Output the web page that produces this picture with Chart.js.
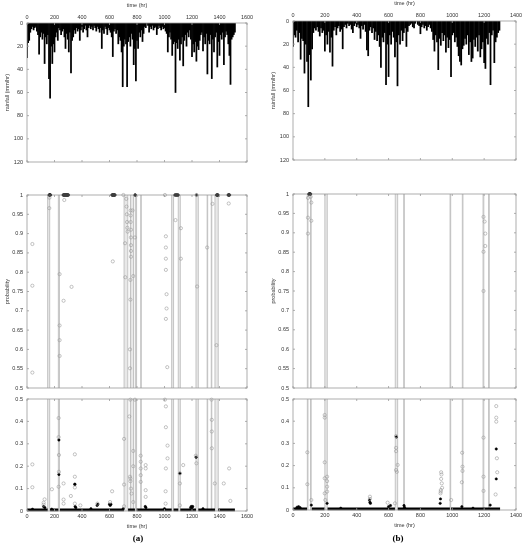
<!DOCTYPE html>
<html>
<head>
<meta charset="utf-8">
<script src="https://cdn.jsdelivr.net/npm/chart.js@4.4.0/dist/chart.umd.min.js"></script>
<style>
  body { margin: 0; background: #fff; width: 527px; height: 550px; position: relative; overflow: hidden; }
  canvas { position: absolute; left: 0; top: 0; }
  .tag { position: absolute; width: 40px; text-align: center; font: bold 9px "Liberation Serif", "Times New Roman", serif; color: #000; }
</style>
</head>
<body>
<canvas id="rainA" width="527" height="550"></canvas>
<canvas id="hiA" width="527" height="550"></canvas>
<canvas id="loA" width="527" height="550"></canvas>
<canvas id="rainB" width="527" height="550"></canvas>
<canvas id="hiB" width="527" height="550"></canvas>
<canvas id="loB" width="527" height="550"></canvas>
<div class="tag" style="left:118px;top:533px">(a)</div>
<div class="tag" style="left:378px;top:533px">(b)</div>

<script>
// =====================================================
// DATA
// =====================================================

// hourly rainfall, one bar every 8 hours (mm/hr)
const rainStep = 8;
const rainA = [
  30,17,15,8,5,3,6,4,3,7,10,27,12,8,14,9,35,12,18,10,
  48,65,20,35,18,25,12,8,15,4,6,10,7,5,12,22,9,14,25,8,
  43,15,12,6,9,4,7,5,15,6,3,8,5,2,6,12,4,2,5,3,
  6,2,4,7,3,5,8,4,22,6,9,3,5,10,4,6,8,12,29,7,
  5,9,6,18,12,15,25,55,20,14,18,55,16,12,20,9,14,36,22,50,
  15,22,8,12,6,16,9,3,4,0,2,8,3,5,2,6,4,3,10,5,
  2,4,6,3,5,4,7,9,25,12,8,14,28,18,16,60,17,22,14,32,
  18,12,37,15,10,20,8,12,6,14,29,18,25,16,33,20,23,15,10,8,
  24,12,18,9,44,15,18,10,48,14,25,12,8,38,16,28,10,14,8,36,
  12,7,10,18,28,53,14,12,10,8
];
const rainB = [
  22,12,14,8,18,10,33,15,17,45,20,35,74,29,51,24,10,6,8,5,
  9,13,6,10,8,26,12,20,9,27,14,39,8,5,12,6,4,9,7,24,
  5,3,6,2,4,3,7,10,4,2,5,3,6,15,4,7,3,9,25,30,
  8,5,10,6,16,9,17,12,22,40,14,18,10,55,20,48,12,20,9,14,
  31,18,56,12,20,8,17,10,6,22,9,4,3,2,5,6,2,0,3,4,
  11,5,3,6,4,8,5,3,6,9,16,26,12,18,42,15,21,10,17,12,
  27,14,23,16,48,12,10,18,14,22,30,35,38,24,21,15,20,12,29,18,
  35,32,16,22,14,26,12,31,24,18,36,41,15,20,10,55,12,8,36,18,
  14,10,8
];

// event windows (hours) shaded in the probability panels
const bandsA = [[150,165],[228,236],[706,733],[752,756],[772,776],[790,797],[827,831],
                [1052,1066],[1100,1115],[1229,1246],[1310,1314],[1340,1344],[1367,1391]];
const bandsB = [[90,94],[110,114],[200,215],[642,657],[695,699],[986,990],[1063,1067],
                [1193,1198],[1228,1232]];

// probability points [hour, p] - upper panel (0.5 - 1)
const hiCirclesA = [
  [39,0.873],[39,0.765],[39,0.54],[162,0.966],[163,0.993],[271,0.987],[237,0.795],[237,0.662],
  [237,0.624],[237,0.583],[266,0.726],[324,0.762],[624,0.828],[701,1.0],[713,0.875],[715,0.787],
  [722,0.99],[724,0.97],[726,0.95],[728,0.93],[730,0.915],[732,0.905],[749,0.6],[749,0.551],
  [752,0.78],[752,0.729],[754,0.96],[754,0.947],[754,0.93],[756,0.91],[756,0.89],[756,0.87],
  [756,0.855],[756,0.84],[773,0.79],[785,0.89],[768,0.96],[1003,1.0],[1010,0.893],[1010,0.864],
  [1010,0.835],[1010,0.806],[1015,0.743],[1015,0.706],[1010,0.679],[1020,0.554],[1080,0.935],
  [1119,0.914],[1119,0.835],[1233,1.0],[1237,0.763],[1310,0.864],[1349,0.977],[1378,0.611],[1467,0.978]
];
const hiBlackA = [
  [160,1],[163,1],[166,1],[169,1],[172,1],[262,1],[266,1],[270,1],[274,1],[278,1],[282,1],[286,1],
  [290,1],[294,1],[298,1],[302,1],[617,1],[621,1],[625,1],[629,1],[633,1],[637,1],[641,1],[785,1],
  [788,1],[1075,1],[1080,1],[1085,1],[1090,1],[1095,1],[1100,1],[1233,1],[1378,1],[1382,1],
  [1386,1],[1390,1],[1462,1],[1466,1],[1470,1],[1474,1]
];
const hiCirclesB = [
  [94,0.99],[111,0.993],[115,0.978],[94,0.939],[115,0.931],[94,0.898],[1196,0.941],[1203,0.929],
  [1207,0.898],[1207,0.866],[1196,0.851],[1196,0.75]
];
const hiBlackB = [[99,1],[102,1],[105,1],[108,1],[111,1]];

// probability points [hour, p] - lower panel (0 - 0.5)
const loCirclesA = [
  [39,0.208],[39,0.106],[121,0.028],[121,0.037],[128,0.052],[181,0.097],[230,0.415],[230,0.33],
  [232,0.25],[232,0.175],[230,0.108],[266,0.123],[266,0.051],[266,0.033],[319,0.067],[348,0.253],
  [348,0.153],[348,0.105],[348,0.033],[388,0.025],[512,0.033],[604,0.04],[619,0.088],[706,0.322],
  [706,0.118],[706,0.021],[744,0.422],[749,0.153],[752,0.145],[752,0.133],[756,0.1],[760,0.078],
  [752,0.497],[773,0.268],[773,0.2],[773,0.04],[785,0.497],[827,0.247],[827,0.22],[827,0.19],
  [827,0.16],[827,0.13],[863,0.205],[863,0.19],[863,0.093],[863,0.063],[1003,0.497],[1010,0.467],
  [1010,0.374],[1022,0.292],[1022,0.235],[1010,0.19],[1008,0.088],[1008,0.033],[1112,0.168],
  [1112,0.123],[1136,0.205],[1112,0.025],[1228,0.247],[1232,0.213],[1342,0.497],[1344,0.407],
  [1344,0.355],[1344,0.28],[1366,0.123],[1431,0.123],[1470,0.19],[1479,0.045]
];
const loBlackA = [
  [232,0.317],[232,0.163],[348,0.12],[348,0.118],[121,0.02],[130,0.015],[350,0.02],[355,0.015],
  [465,0.01],[510,0.025],[515,0.03],[600,0.03],[605,0.025],[610,0.03],[860,0.02],[865,0.015],
  [1000,0.01],[1112,0.168],[1190,0.015],[1195,0.02],[1200,0.015],[1205,0.02],[1230,0.24],
  [700,0.01],[40,0.008],[180,0.008],[1280,0.01]
];
const loCirclesB = [
  [90,0.26],[90,0.116],[115,0.045],[199,0.428],[199,0.416],[199,0.215],[199,0.143],[199,0.075],
  [203,0.045],[214,0.15],[214,0.13],[214,0.105],[214,0.083],[483,0.06],[483,0.05],[594,0.033],
  [640,0.03],[647,0.333],[647,0.28],[647,0.265],[647,0.18],[652,0.172],[657,0.203],[928,0.083],
  [930,0.17],[932,0.16],[930,0.14],[934,0.12],[936,0.1],[928,0.09],[926,0.075],[993,0.045],
  [1062,0.258],[1064,0.195],[1064,0.176],[1060,0.125],[1196,0.326],[1196,0.15],[1196,0.086],
  [1276,0.468],[1276,0.416],[1276,0.398],[1280,0.233],[1282,0.17],[1272,0.07]
];
const loBlackB = [
  [115,0.022],[214,0.03],[480,0.045],[483,0.035],[486,0.03],[600,0.015],[612,0.02],[649,0.329],
  [697,0.02],[924,0.03],[926,0.05],[1060,0.015],[1238,0.022],[1276,0.275],[1276,0.14],[25,0.012],
  [35,0.015],[45,0.01],[300,0.008],[700,0.012],[1130,0.008]
];

// stretches of near-zero probability (dense black run of points)
const baseLevel = 0.005;
const baseA = [[0,150],[168,228],[240,705],[735,785],[797,1052],[1066,1100],[1115,1229],[1246,1367],[1391,1512]];
const baseB = [[0,88],[118,198],[217,640],[658,985],[992,1300]];

// tick labels
const timeTicksA = [0,200,400,600,800,1000,1200,1400,1600];
const timeTicksB = [0,200,400,600,800,1000,1200,1400];
const rainTicks = [0,20,40,60,80,100,120];
const hiTicks = [0.5,0.55,0.6,0.65,0.7,0.75,0.8,0.85,0.9,0.95,1];
const loTicks = [0,0.1,0.2,0.3,0.4,0.5];


// =====================================================
// PLUGINS
// =====================================================

// grey event windows behind the points
const bandPlugin = {
  id: 'bands',
  beforeDatasetsDraw(chart, args, opts) {
    const { ctx, chartArea: a, scales: { x } } = chart;
    ctx.save();
    (opts.list || []).forEach(([s, e]) => {
      const x0 = x.getPixelForValue(s), x1 = x.getPixelForValue(e);
      ctx.fillStyle = '#e8e8e8';
      ctx.fillRect(x0, a.top, x1 - x0, a.bottom - a.top);
      ctx.strokeStyle = '#c0c0c0';
      ctx.lineWidth = 0.9;
      ctx.beginPath();
      ctx.moveTo(x0, a.top); ctx.lineTo(x0, a.bottom);
      ctx.moveTo(x1, a.top); ctx.lineTo(x1, a.bottom);
      ctx.stroke();
    });
    ctx.restore();
  }
};

// matlab style box with inward ticks on all four sides
const framePlugin = {
  id: 'frame',
  afterDraw(chart) {
    const { ctx, chartArea: a, scales: { x, y } } = chart;
    const tl = 2;
    ctx.save();
    ctx.strokeStyle = '#9a9a9a';
    ctx.lineWidth = 0.8;
    ctx.strokeRect(a.left, a.top, a.right - a.left, a.bottom - a.top);
    ctx.beginPath();
    x.ticks.forEach(t => {
      const px = x.getPixelForValue(t.value);
      ctx.moveTo(px, a.top); ctx.lineTo(px, a.top + tl);
      ctx.moveTo(px, a.bottom); ctx.lineTo(px, a.bottom - tl);
    });
    y.ticks.forEach(t => {
      const py = y.getPixelForValue(t.value);
      ctx.moveTo(a.left, py); ctx.lineTo(a.left + tl, py);
      ctx.moveTo(a.right, py); ctx.lineTo(a.right - tl, py);
    });
    ctx.stroke();
    ctx.restore();
  }
};


// =====================================================
// PANEL BUILDER
// =====================================================

const W = 527, H = 550;
const Y_AXIS_W = 27;
const tickFont = { family: '"Liberation Sans", Arial, sans-serif', size: 5.5 };
const textColor = '#333';

function fixedTicks(list) {
  return scale => { scale.ticks = list.map(v => ({ value: v })); };
}

function panel(id, box, o) {
  const xH = o.xPos === 'top' ? 21 : (o.xPos === 'bottom' ? 19 : 0);
  const padding = {
    left: box.l - Y_AXIS_W,
    right: W - box.r,
    top: box.t - (o.xPos === 'top' ? xH : 0),
    bottom: H - box.b - (o.xPos === 'bottom' ? xH : 0)
  };
  const showX = o.xPos !== 'none';

  return new Chart(document.getElementById(id), {
    type: o.type,
    data: { datasets: o.datasets },
    options: {
      responsive: false,
      animation: false,
      events: [],
      layout: { padding },
      plugins: {
        legend: { display: false },
        tooltip: { enabled: false },
        bands: { list: o.bands || [] }
      },
      scales: {
        x: {
          type: 'linear',
          position: o.xPos === 'top' ? 'top' : 'bottom',
          min: 0, max: o.xMax,
          offset: false,
          afterBuildTicks: fixedTicks(o.xTicks),
          afterFit: s => { s.height = xH; },
          grid: { display: false, drawTicks: false },
          border: { display: false },
          ticks: { display: showX, font: tickFont, color: textColor, padding: 2, maxRotation: 0, autoSkip: false, callback: v => String(v) },
          title: { display: showX, text: 'time (hr)', font: tickFont, color: textColor, padding: 0 }
        },
        y: {
          type: 'linear',
          reverse: !!o.yReverse,
          min: o.yMin, max: o.yMax,
          afterBuildTicks: fixedTicks(o.yTicks),
          afterFit: s => { s.width = Y_AXIS_W; },
          grid: { display: false, drawTicks: false },
          border: { display: false },
          ticks: { font: tickFont, color: textColor, padding: 4, autoSkip: false, callback: v => String(v) },
          title: { display: !!o.yTitle, text: o.yTitle || '', font: tickFont, color: textColor, padding: { top: 4, bottom: 0 } }
        }
      }
    },
    plugins: [bandPlugin, framePlugin]
  });
}

// helpers to turn the arrays into chart datasets
const toPts = list => list.map(([x, y]) => ({ x, y }));

function rainSet(values) {
  return [{
    data: values.map((v, i) => ({ x: i * rainStep, y: v })),
    backgroundColor: '#000',
    barThickness: 1.1,
    borderWidth: 0
  }];
}

function baseSet(segments) {
  const pts = [];
  segments.forEach(([s, e]) => {
    pts.push({ x: s, y: baseLevel }, { x: e, y: baseLevel }, { x: e, y: null });
  });
  return {
    type: 'line', data: pts, borderColor: '#000', borderWidth: 2.6,
    pointRadius: 0, spanGaps: false, fill: false, clip: 4
  };
}

function probSets(circles, black, base) {
  const sets = [
    { data: toPts(circles), pointRadius: 1.6, borderWidth: 0.6, borderColor: '#9a9a9a', backgroundColor: 'rgba(0,0,0,0)', clip: 4 },
    { data: toPts(black), pointRadius: 1.2, borderWidth: 0.5, borderColor: '#000', backgroundColor: '#000', clip: 4 }
  ];
  if (base) sets.push(baseSet(base));
  return sets;
}


// =====================================================
// DRAW THE SIX PANELS
// =====================================================

// (a) left column
panel('rainA', { l: 27, r: 247, t: 23, b: 162 }, {
  type: 'bar', xPos: 'top', xMax: 1600, xTicks: timeTicksA,
  yMin: 0, yMax: 120, yTicks: rainTicks, yReverse: true, yTitle: 'rainfall (mm/hr)',
  datasets: rainSet(rainA)
});
panel('hiA', { l: 27, r: 247, t: 195, b: 388 }, {
  type: 'scatter', xPos: 'none', xMax: 1600, xTicks: timeTicksA,
  yMin: 0.5, yMax: 1, yTicks: hiTicks, yTitle: 'probability',
  bands: bandsA, datasets: probSets(hiCirclesA, hiBlackA)
});
panel('loA', { l: 27, r: 247, t: 399, b: 511 }, {
  type: 'scatter', xPos: 'bottom', xMax: 1600, xTicks: timeTicksA,
  yMin: 0, yMax: 0.5, yTicks: loTicks,
  bands: bandsA, datasets: probSets(loCirclesA, loBlackA, baseA)
});

// (b) right column
panel('rainB', { l: 293, r: 516, t: 21, b: 160 }, {
  type: 'bar', xPos: 'top', xMax: 1400, xTicks: timeTicksB,
  yMin: 0, yMax: 120, yTicks: rainTicks, yReverse: true, yTitle: 'rainfall (mm/hr)',
  datasets: rainSet(rainB)
});
panel('hiB', { l: 293, r: 516, t: 194, b: 388 }, {
  type: 'scatter', xPos: 'none', xMax: 1400, xTicks: timeTicksB,
  yMin: 0.5, yMax: 1, yTicks: hiTicks, yTitle: 'probability',
  bands: bandsB, datasets: probSets(hiCirclesB, hiBlackB)
});
panel('loB', { l: 293, r: 516, t: 399, b: 510 }, {
  type: 'scatter', xPos: 'bottom', xMax: 1400, xTicks: timeTicksB,
  yMin: 0, yMax: 0.5, yTicks: loTicks,
  bands: bandsB, datasets: probSets(loCirclesB, loBlackB, baseB)
});
</script>
</body>
</html>
